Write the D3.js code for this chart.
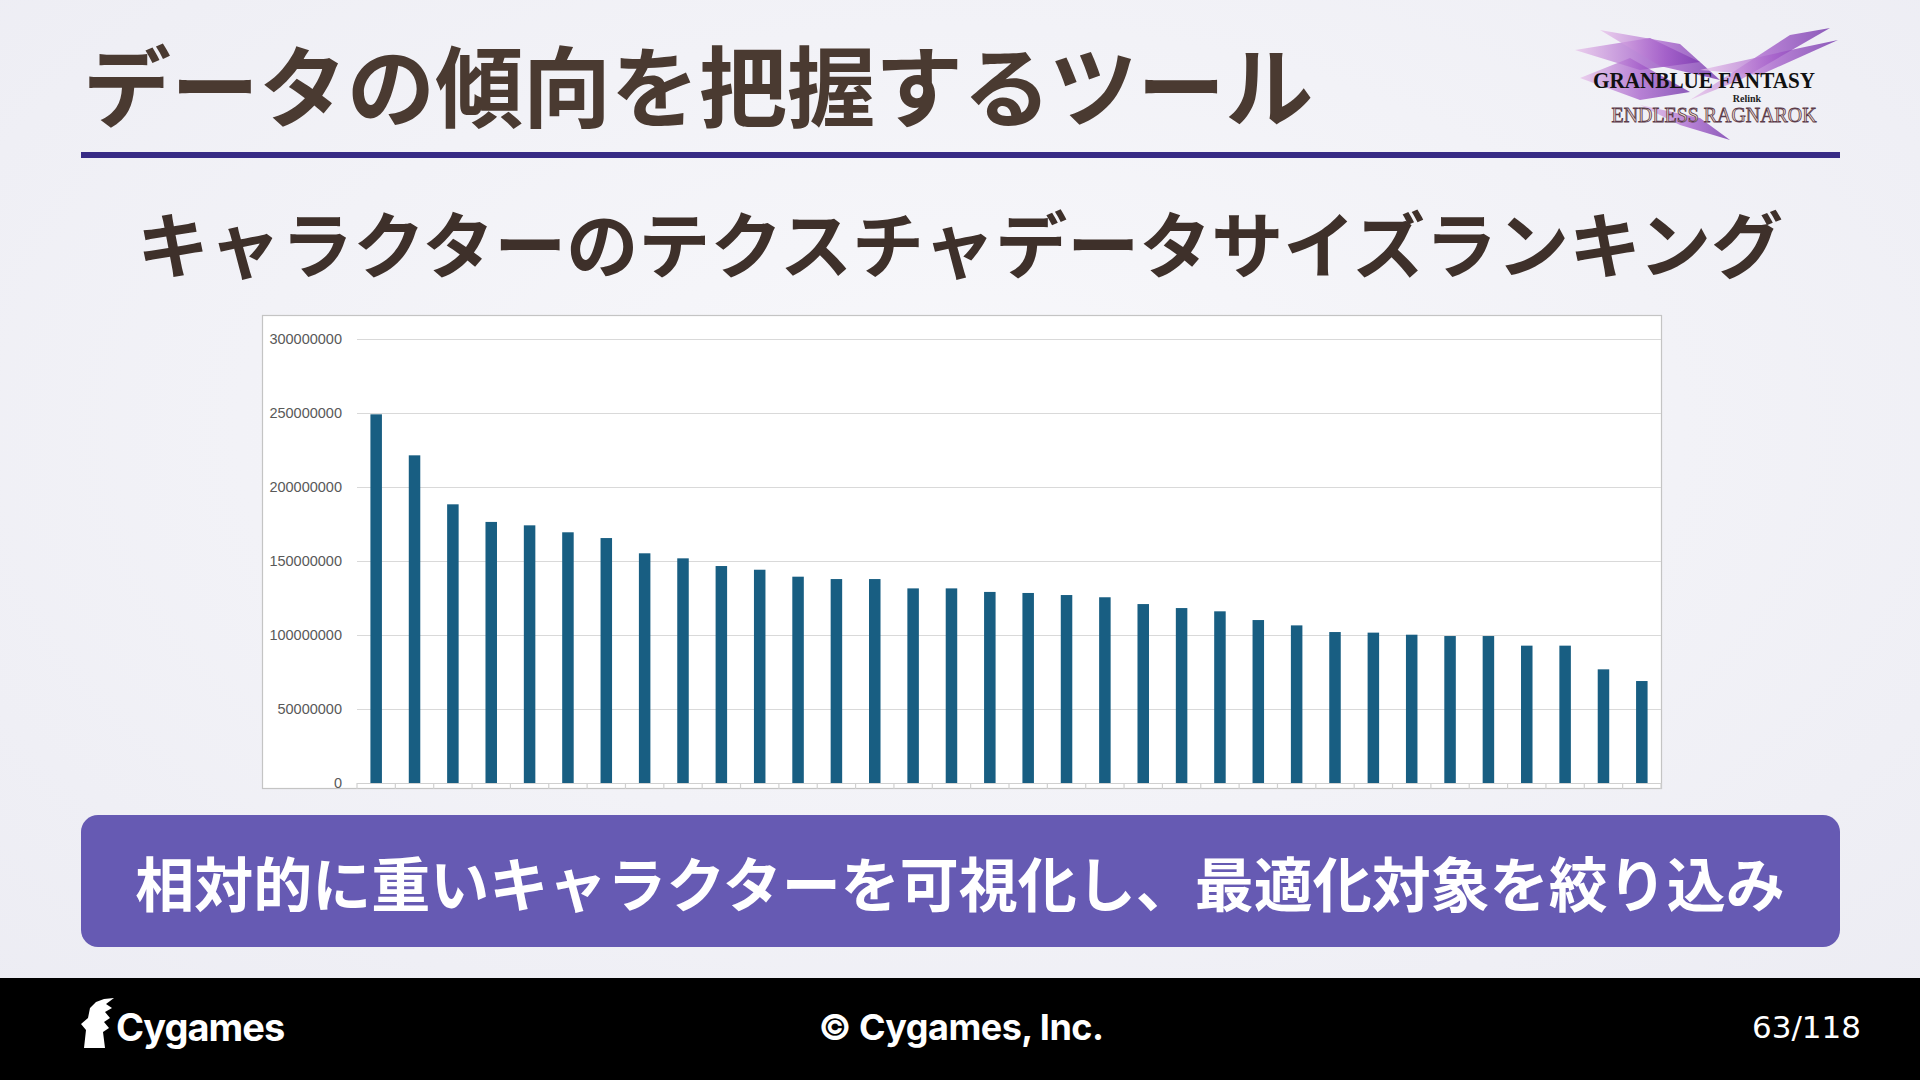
<html>
<head>
<meta charset="utf-8">
<title>キャラクターのテクスチャデータサイズランキング</title>
<style>
  body { margin: 0; background: #f3f3f8; overflow: hidden; }
  svg { display: block; }
</style>
</head>
<body>
<script src="https://cdn.jsdelivr.net/npm/d3@7"></script>
<script>

// ranking of characters (labels are hidden in the original chart)
var ranks = ["1","2","3","4","5","6","7","8","9","10","11","12","13","14","15","16","17",
             "18","19","20","21","22","23","24","25","26","27","28","29","30","31","32","33","34"];

// texture data size (bytes)
var sizes = [249100000, 221400000, 188300000, 176400000, 174100000, 169400000, 165500000,
             155200000, 151800000, 146600000, 144100000, 139400000, 137800000, 137800000,
             131500000, 131500000, 129100000, 128400000, 127000000, 125500000, 120900000,
             118200000, 116000000, 110100000, 106500000, 102000000, 101600000, 100200000,
             99300000, 99300000, 92800000, 92800000, 76800000, 68900000];

var yTicks = [0, 50000000, 100000000, 150000000, 200000000, 250000000, 300000000];

var width = 1920, height = 1080;
var jp = "'Noto Sans CJK JP', 'Noto Sans', sans-serif";

var svg = d3.select("body").append("svg")
    .attr("width", width)
    .attr("height", height);

var defs = svg.append("defs");

// soft background
var bg = defs.append("radialGradient").attr("id", "bg").attr("cx", "50%").attr("cy", "40%").attr("r", "75%");
bg.append("stop").attr("offset", "0%").attr("stop-color", "#f8f8fb");
bg.append("stop").attr("offset", "100%").attr("stop-color", "#ececf3");
svg.append("rect").attr("width", width).attr("height", height).attr("fill", "url(#bg)");

// title
svg.append("text")
    .attr("x", 83).attr("y", 120)
    .attr("font-family", jp).attr("font-weight", 700).attr("font-size", 88)
    .attr("fill", "#4a3a31")
    .text("データの傾向を把握するツール");

// divider
svg.append("rect")
    .attr("x", 81).attr("y", 152).attr("width", 1759).attr("height", 6)
    .attr("fill", "#372b85");

// logo (top right)
var logo = svg.append("g");
var lg = defs.append("linearGradient").attr("id", "slash").attr("x1", "0%").attr("x2", "100%");
lg.append("stop").attr("offset", "0%").attr("stop-color", "#e8c3ea");
lg.append("stop").attr("offset", "55%").attr("stop-color", "#a35bc9");
lg.append("stop").attr("offset", "100%").attr("stop-color", "#6c2aa6");
var slashes = [
  "M1575,50 L1650,38 L1700,62 L1640,70 Z",
  "M1600,30 L1680,44 L1720,80 L1660,66 Z",
  "M1690,100 L1790,35 L1830,28 L1740,80 Z",
  "M1700,70 L1800,48 L1838,40 L1760,75 Z",
  "M1640,105 L1700,118 L1730,140 L1680,125 Z",
  "M1580,78 L1630,58 L1690,92 L1640,100 Z"
];
logo.selectAll("path").data(slashes).enter().append("path")
    .attr("d", function(d) { return d; })
    .attr("fill", "url(#slash)")
    .attr("opacity", 0.75);
logo.append("text")
    .attr("x", 1704).attr("y", 88)
    .attr("text-anchor", "middle")
    .attr("font-family", "'Liberation Serif', serif").attr("font-size", 23).attr("font-weight", 700)
    .attr("fill", "#111")
    .attr("textLength", 222).attr("lengthAdjust", "spacingAndGlyphs")
    .text("GRANBLUE FANTASY");
logo.append("text")
    .attr("x", 1747).attr("y", 102)
    .attr("text-anchor", "middle")
    .attr("font-family", "'Liberation Serif', serif").attr("font-size", 10).attr("font-weight", 700)
    .attr("fill", "#222")
    .text("Relink");
logo.append("text")
    .attr("x", 1714).attr("y", 122)
    .attr("text-anchor", "middle")
    .attr("font-family", "'Liberation Serif', serif").attr("font-size", 20)
    .attr("fill", "#f2dccc").attr("stroke", "#5a3a4a").attr("stroke-width", 0.8)
    .attr("textLength", 205).attr("lengthAdjust", "spacingAndGlyphs")
    .text("ENDLESS RAGNAROK");

// subtitle
svg.append("text")
    .attr("x", 960).attr("y", 272)
    .attr("text-anchor", "middle")
    .attr("font-family", jp).attr("font-weight", 700).attr("font-size", 72)
    .attr("fill", "#3e302a")
    .text("キャラクターのテクスチャデータサイズランキング");

// chart frame
svg.append("rect")
    .attr("x", 262.5).attr("y", 315.5).attr("width", 1399).attr("height", 473)
    .attr("fill", "#fff").attr("stroke", "#c4c4c4").attr("stroke-width", 1.2);

var x = d3.scaleBand()
    .domain(ranks)
    .range([357, 1661])
    .paddingInner(0.7)
    .paddingOuter(0.35);

var y = d3.scaleLinear()
    .domain([0, 300000000])
    .range([783, 339]);

// gridlines + y labels
var yAxis = svg.append("g")
    .attr("transform", "translate(357,0)")
    .call(d3.axisLeft(y).tickValues(yTicks).tickSize(-1304).tickPadding(15).tickFormat(d3.format("d")));
yAxis.select(".domain").remove();
yAxis.selectAll(".tick line").attr("stroke", "#d9d9d9").attr("stroke-width", 1.2);
yAxis.selectAll(".tick text")
    .attr("fill", "#595959")
    .attr("font-family", "'Liberation Sans', Arial, sans-serif")
    .attr("font-size", 14.5);

// category axis (tick marks between bars)
var boundaries = ranks.map(function(r) { return x(r) - x.step() * x.paddingInner() / 2; });
boundaries.push(1661);
svg.append("line")
    .attr("x1", 357).attr("x2", 1661).attr("y1", 783.5).attr("y2", 783.5)
    .attr("stroke", "#d0d0d0").attr("stroke-width", 1.2);
svg.append("g").selectAll("line").data(boundaries).enter().append("line")
    .attr("x1", function(d) { return d; }).attr("x2", function(d) { return d; })
    .attr("y1", 783).attr("y2", 789)
    .attr("stroke", "#d0d0d0").attr("stroke-width", 1.2);

// bars
svg.append("g").selectAll("rect")
    .data(sizes)
    .enter()
    .append("rect")
    .attr("x", function(d, i) { return x(ranks[i]); })
    .attr("y", function(d) { return y(d); })
    .attr("width", x.bandwidth())
    .attr("height", function(d) { return y(0) - y(d); })
    .attr("fill", "#185e82");

// callout
svg.append("rect")
    .attr("x", 81).attr("y", 815).attr("width", 1759).attr("height", 132).attr("rx", 17)
    .attr("fill", "#665ab3");
svg.append("text")
    .attr("x", 960).attr("y", 907)
    .attr("text-anchor", "middle")
    .attr("font-family", jp).attr("font-weight", 700).attr("font-size", 59)
    .attr("fill", "#fff")
    .text("相対的に重いキャラクターを可視化し、最適化対象を絞り込み");

// footer
svg.append("rect").attr("x", 0).attr("y", 978).attr("width", width).attr("height", 102).attr("fill", "#000");
svg.append("path")
    .attr("d", "M84,1048 L86,1030 L81,1024 L88,1018 L90,1008 L96,1002 L104,999 L114,998 L106,1004 L112,1008 L105,1012 L110,1018 L104,1022 L109,1028 L103,1032 L105,1048 Z")
    .attr("fill", "#fff");
svg.append("text")
    .attr("x", 116).attr("y", 1041)
    .attr("font-family", "Inter, Lato, sans-serif").attr("font-weight", 700).attr("font-size", 38)
    .attr("letter-spacing", -1)
    .attr("fill", "#fff")
    .text("Cygames");
svg.append("text")
    .attr("x", 961).attr("y", 1040)
    .attr("text-anchor", "middle")
    .attr("font-family", "Inter, Lato, sans-serif").attr("font-weight", 700).attr("font-size", 36)
    .attr("letter-spacing", -0.5)
    .attr("fill", "#fff")
    .text("© Cygames, Inc.");
svg.append("text")
    .attr("x", 1861).attr("y", 1038)
    .attr("text-anchor", "end")
    .attr("font-family", "'DejaVu Sans', sans-serif").attr("font-size", 31)
    .attr("fill", "#fff")
    .text("63/118");

</script>
</body>
</html>
